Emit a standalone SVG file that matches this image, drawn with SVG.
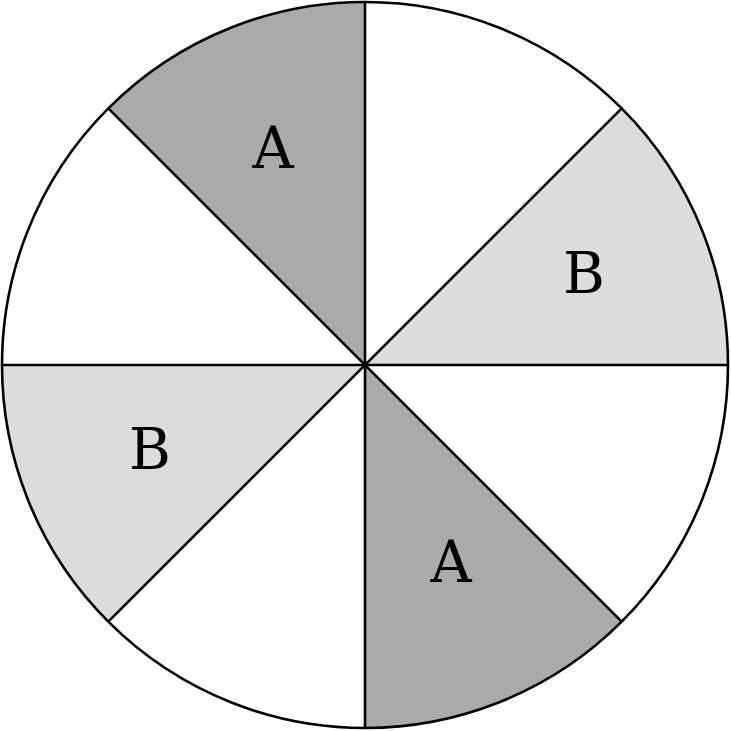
<svg xmlns="http://www.w3.org/2000/svg" width="731" height="731" viewBox="0 0 731 731">
<style>
.dark{fill:#aaaaaa;stroke:none}
.light{fill:#dcdcdc;stroke:none}
.ln{stroke:#000;stroke-width:2.6;fill:none}
.lbl{font-family:"DejaVu Serif","Liberation Serif",serif;font-size:57px;fill:#000;text-anchor:middle}
</style>
<rect width="731" height="731" fill="#fff"/>
<g id="sectors">
<path class="dark" d="M365,365 L108.3,108.3 A363,363 0 0 1 365,2 Z"/>
<path class="light" d="M365,365 L621.7,108.3 A363,363 0 0 1 728,365 Z"/>
<path class="dark" d="M365,365 L621.7,621.7 A363,363 0 0 1 365,728 Z"/>
<path class="light" d="M365,365 L2,365 A363,363 0 0 0 108.3,621.7 Z"/>
</g>
<g id="lines">
<line class="ln" x1="365" y1="2" x2="365" y2="728"/>
<line class="ln" x1="2" y1="365" x2="728" y2="365"/>
<line class="ln" x1="108.3" y1="108.3" x2="621.7" y2="621.7"/>
<line class="ln" x1="621.7" y1="108.3" x2="108.3" y2="621.7"/>
<circle class="ln" cx="365" cy="365" r="363"/>
</g>
<g id="labels">
<text class="lbl" x="273" y="168">A</text>
<text class="lbl" x="584" y="293">B</text>
<text class="lbl" x="451" y="582">A</text>
<text class="lbl" x="150" y="469">B</text>
</g>
</svg>
